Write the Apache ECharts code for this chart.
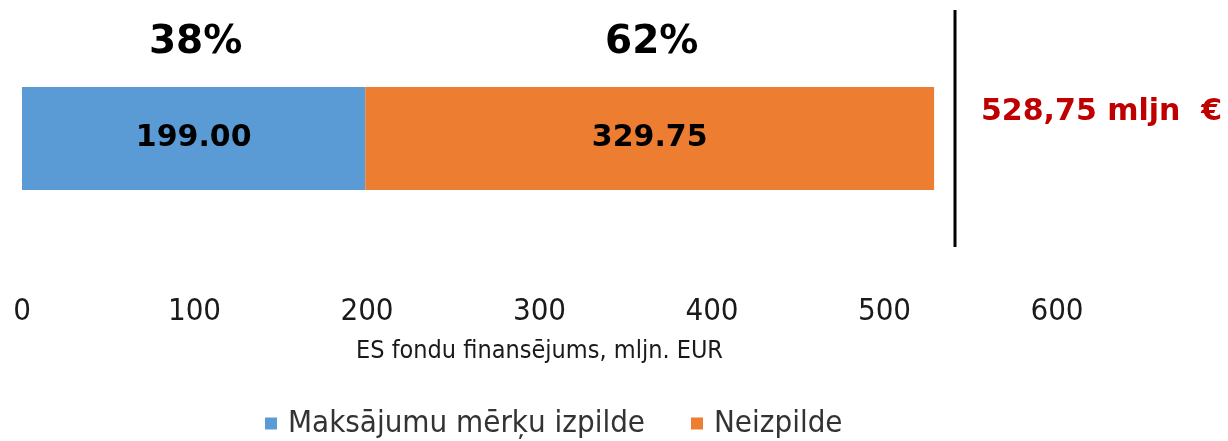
<!DOCTYPE html>
<html>
<head>
<meta charset="utf-8">
<script src="https://cdn.jsdelivr.net/npm/echarts@6/dist/echarts.min.js"></script>
<style>
  html, body { margin: 0; padding: 0; background: #fff; }
  #main { width: 1228px; height: 441px; }
</style>
</head>
<body>
<div id="main"></div>
<script>
// dati
var categories = [''];
var seriesNames = ['Maksājumu mērķu izpilde', 'Neizpilde'];
var paid = [199.00];
var unpaid = [329.75];
var axisTitle = 'ES fondu finansējums, mljn. EUR';
var totalText = '528,75 mljn  €';

var myChart = echarts.init(document.getElementById('main'));

var total = paid[0] + unpaid[0];
var pct = function (v) { return Math.round(v / total * 100) + '%'; };

var valueLabel = {
    show: true,
    position: 'inside',
    fontFamily: 'DejaVu Sans',
    fontWeight: 'bold',
    fontSize: 30,
    color: '#000',
    formatter: function (p) { return p.value.toFixed(2); }
};

function pctMark(centre, val) {
    return {
        symbol: 'rect',
        symbolSize: 1,
        itemStyle: { color: 'transparent' },
        label: {
            show: true,
            offset: [2, -96],
            fontFamily: 'DejaVu Sans',
            fontWeight: 'bold',
            fontSize: 39,
            color: '#000',
            formatter: pct(val)
        },
        data: [{ coord: [centre, categories[0]] }]
    };
}

option = {
    animation: false,
    grid: { left: 22, right: 171, top: 30, bottom: 194 },
    xAxis: {
        type: 'value',
        min: 0,
        max: 600,
        interval: 100,
        axisLine: { show: false },
        axisTick: { show: false },
        splitLine: { show: false },
        axisLabel: {
            margin: 49,
            fontFamily: 'DejaVu Sans Condensed',
            fontSize: 31,
            color: '#1a1a1a'
        },
        name: axisTitle,
        nameLocation: 'middle',
        nameGap: 92,
        nameTextStyle: {
            fontFamily: 'DejaVu Sans Condensed',
            fontSize: 25,
            color: '#1a1a1a'
        }
    },
    yAxis: {
        type: 'category',
        data: categories,
        axisLine: { show: false },
        axisTick: { show: false },
        axisLabel: { show: false }
    },
    legend: {
        left: 260,
        top: 403,
        itemWidth: 12,
        itemHeight: 12,
        itemGap: 46,
        icon: 'rect',
        textStyle: {
            fontFamily: 'DejaVu Sans Condensed',
            fontSize: 31,
            color: '#333',
            padding: [0, 0, 0, 6]
        },
        data: seriesNames
    },
    graphic: [
        {
            type: 'line',
            shape: { x1: 955, y1: 10, x2: 955, y2: 247 },
            style: { stroke: '#000', lineWidth: 3 }
        },
        {
            type: 'text',
            left: 981,
            top: 97,
            style: {
                text: totalText,
                fontFamily: 'DejaVu Sans',
                fontWeight: 'bold',
                fontSize: 30,
                fill: '#C00000'
            }
        }
    ],
    series: [
        {
            name: seriesNames[0],
            type: 'bar',
            stack: 'total',
            barWidth: 103,
            itemStyle: { color: '#5B9BD5' },
            label: valueLabel,
            markPoint: pctMark(paid[0] / 2, paid[0]),
            data: paid
        },
        {
            name: seriesNames[1],
            type: 'bar',
            stack: 'total',
            barWidth: 103,
            itemStyle: { color: '#ED7D31' },
            label: valueLabel,
            markPoint: pctMark(paid[0] + unpaid[0] / 2, unpaid[0]),
            data: unpaid
        }
    ]
};

myChart.setOption(option);
</script>
</body>
</html>
